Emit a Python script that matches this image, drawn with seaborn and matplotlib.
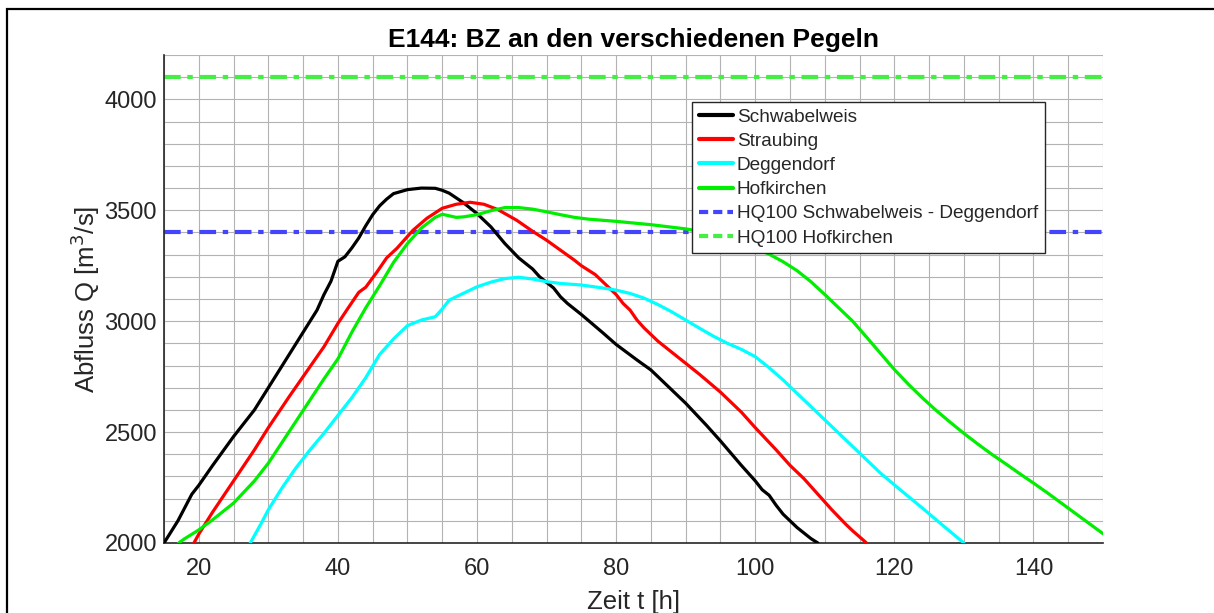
import numpy as np
import pandas as pd
import matplotlib
matplotlib.use('Agg')
import matplotlib.pyplot as plt
from matplotlib.lines import Line2D
from matplotlib.patches import Rectangle
import seaborn as sns

# === Daten ===
t_schwabelweis = [15, 17, 18, 19, 20, 22, 25, 28, 30, 33, 35, 37, 38, 39, 40, 41, 42, 43, 44, 45,
                  46, 47, 48, 50, 52, 54, 55, 56, 58, 60, 62, 64, 66, 67, 68, 69, 70, 71, 72, 73,
                  75, 78, 80, 83, 85, 88, 90, 93, 95, 98, 100, 101, 102, 103, 104, 106, 108, 109]
q_schwabelweis = [2000, 2100, 2160, 2220, 2260, 2350, 2480, 2600, 2700, 2850, 2950, 3050, 3120, 3180,
                  3270, 3290, 3330, 3375, 3430, 3480, 3520, 3550, 3575, 3593, 3600, 3599, 3590, 3577,
                  3535, 3485, 3425, 3350, 3285, 3260, 3235, 3200, 3175, 3150, 3110, 3080, 3030, 2950,
                  2895, 2825, 2780, 2690, 2630, 2530, 2460, 2350, 2280, 2240, 2215, 2170, 2130, 2070,
                  2020, 2000]

t_straubing = [19.3, 20, 22, 25, 28, 30, 33, 35, 37, 38, 40, 41.4, 43, 44, 45.6, 47, 48.5, 50.8, 52.8,
               55, 57, 59, 61, 63, 65.7, 68, 70, 72, 74, 75, 77, 78, 80, 81, 82, 83, 84, 86, 88, 90,
               92, 95, 98, 100, 103, 105, 107, 109, 111, 113, 114, 116]
q_straubing = [2000, 2040, 2140, 2280, 2420, 2520, 2660, 2750, 2840, 2885, 2990, 3056, 3130, 3153,
               3221, 3285, 3329, 3410, 3464, 3509, 3527, 3536, 3527, 3503, 3455, 3405, 3365, 3320,
               3275, 3250, 3210, 3180, 3120, 3080, 3050, 3005, 2970, 2910, 2860, 2810, 2760, 2680,
               2590, 2520, 2420, 2350, 2290, 2220, 2150, 2085, 2055, 2000]

t_deggendorf = [27.4, 29, 30, 32, 34, 36, 38, 40, 42, 44, 46, 48, 50, 52, 54, 55, 56, 58, 60, 62, 64,
                66, 68, 70, 72, 75, 78, 80, 82, 84, 86, 88, 90, 92, 94, 96, 98, 100, 102, 104, 106,
                108, 110, 112, 114, 116, 118, 120, 122, 124, 126, 128, 130]
q_deggendorf = [2000, 2090, 2150, 2250, 2340, 2420, 2495, 2575, 2655, 2745, 2850, 2920, 2980, 3005,
                3020, 3055, 3095, 3125, 3155, 3176, 3192, 3198, 3190, 3178, 3170, 3163, 3150, 3140,
                3125, 3104, 3075, 3042, 3005, 2968, 2932, 2900, 2873, 2840, 2790, 2735, 2675, 2615,
                2555, 2495, 2435, 2375, 2315, 2262, 2210, 2158, 2105, 2052, 2000]

t_hofkirchen = [17.1, 18, 20, 22, 25, 28, 30, 32, 34, 36, 38, 40, 42, 44, 46, 48, 50, 52, 54, 55, 56,
                57, 58, 60, 62, 64, 66, 68, 70, 72, 74, 76, 80, 85, 90, 93, 95, 97, 100, 102, 104,
                106, 108, 110, 112, 114, 116, 118, 120, 122, 124, 126, 128, 130, 132, 134, 136, 138,
                140, 142, 144, 146, 148, 150]
q_hofkirchen = [2000, 2020, 2059, 2105, 2180, 2280, 2360, 2455, 2550, 2645, 2740, 2830, 2950, 3060,
                3160, 3265, 3350, 3420, 3468, 3482, 3475, 3468, 3470, 3480, 3498, 3512, 3512, 3505,
                3493, 3480, 3468, 3460, 3450, 3435, 3416, 3400, 3385, 3365, 3330, 3302, 3268, 3228,
                3178, 3120, 3060, 3000, 2928, 2855, 2782, 2716, 2655, 2598, 2545, 2494, 2446, 2400,
                2357, 2313, 2270, 2226, 2180, 2134, 2088, 2042]

hq100_schwabelweis_deggendorf = 3400
hq100_hofkirchen = 4100

# === Stil ===
sns.set_style('white')
plt.rcParams['font.family'] = ['Liberation Sans', 'DejaVu Sans']
dunkel = '#262626'

fig = plt.figure(figsize=(12.14, 6.13), dpi=100)
ax = fig.add_axes([0.1351, 0.1142, 0.7735, 0.7961])

# === Kurven ===
kurven = [
    ('Schwabelweis', t_schwabelweis, q_schwabelweis, '#000000'),
    ('Straubing', t_straubing, q_straubing, '#ff0000'),
    ('Deggendorf', t_deggendorf, q_deggendorf, '#00ffff'),
    ('Hofkirchen', t_hofkirchen, q_hofkirchen, '#00ee00'),
]
for name, t, q, farbe in kurven:
    df = pd.DataFrame({'t': t, 'Q': q})
    sns.lineplot(data=df, x='t', y='Q', ax=ax, color=farbe, lw=2.3, sort=False,
                 estimator=None, label=name, zorder=3)

ax.axhline(hq100_schwabelweis_deggendorf, color='#4444ff', lw=3, ls=(0, (4, 1.6, 1.3, 1.6)),
           zorder=2.5, label='HQ100 Schwabelweis - Deggendorf')
ax.axhline(hq100_hofkirchen, color='#44ee44', lw=3, ls=(0, (4, 1.6, 1.3, 1.6)),
           zorder=2.5, label='HQ100 Hofkirchen')

# === Achsen ===
ax.set_xlim(15, 150)
ax.set_ylim(2000, 4200)
ax.set_xticks(np.arange(20, 141, 20))
ax.set_yticks(np.arange(2000, 4001, 500))
ax.set_xticks(np.arange(15, 151, 5), minor=True)
ax.set_yticks(np.arange(2000, 4201, 100), minor=True)
ax.grid(True, which='both', color='#b3b3b3', lw=0.8)
ax.set_axisbelow(True)
ax.tick_params(which='major', direction='in', length=7, width=1, colors=dunkel,
               labelsize=17)
ax.tick_params(axis='x', which='major', pad=11)
ax.tick_params(axis='y', which='major', pad=5)
ax.tick_params(which='minor', length=0)
for s in ['top', 'right']:
    ax.spines[s].set_visible(False)
for s in ['left', 'bottom']:
    ax.spines[s].set_color(dunkel)
    ax.spines[s].set_linewidth(1.2)

ax.set_xlabel('Zeit t [h]', fontsize=18.5, color=dunkel, labelpad=7)
ax.set_ylabel('Abfluss Q [m$^3$/s]', fontsize=18.5, color=dunkel, labelpad=2)
ax.set_title('E144: BZ an den verschiedenen Pegeln', fontsize=19, fontweight='bold',
             color='black', pad=6)

# === Legende (HQ-Linien im Legendenfeld gestrichelt) ===
handles, labels = ax.get_legend_handles_labels()
neu = []
for h, l in zip(handles, labels):
    if l.startswith('HQ100'):
        neu.append(Line2D([], [], color=h.get_color(), lw=3, ls=(0, (2.2, 1.2))))
    else:
        neu.append(Line2D([], [], color=h.get_color(), lw=3))
leg = ax.legend(neu, labels, loc='upper right', bbox_to_anchor=(0.938, 0.904),
                borderaxespad=0, fontsize=13.7, frameon=True, fancybox=False,
                framealpha=1, edgecolor=dunkel, handlelength=1.8, handletextpad=0.2,
                borderpad=0.35, labelspacing=0.36)
leg.get_frame().set_linewidth(1)

# === Rahmen der Abbildung ===
fig.patches.append(Rectangle((7 / 1214, -0.1), 1.2, 1 - 9 / 613 + 0.1, transform=fig.transFigure,
                             fill=False, lw=1.6, ec='black'))

fig.savefig('out.png', dpi=100)
